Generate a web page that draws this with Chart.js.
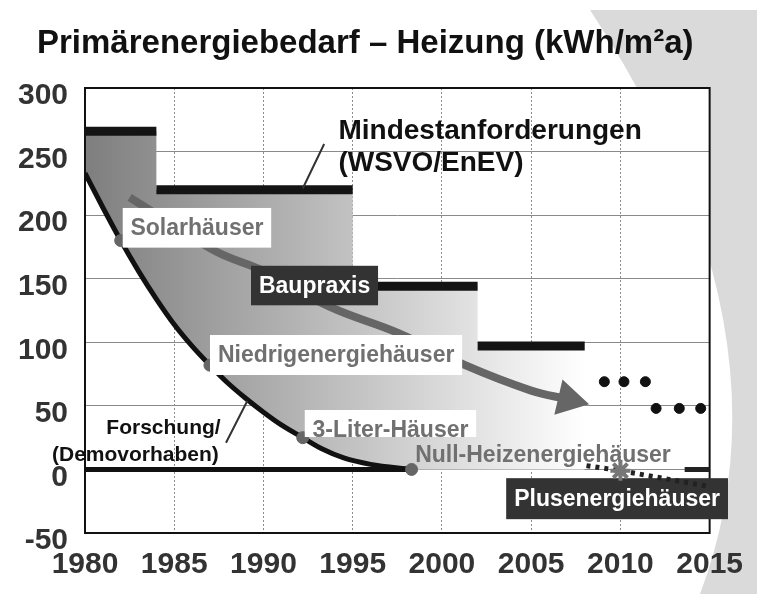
<!DOCTYPE html>
<html>
<head>
    <title>Primärenergiebedarf – Heizung</title>
    <script src="https://cdn.jsdelivr.net/npm/chart.js"></script>
    <style>
        html, body { margin: 0; padding: 0; background: #fff; }
        #wrap { width: 757px; height: 594px; }
    </style>
</head>
<body>
    <div id="wrap"><canvas id="energyChart" width="757" height="594"></canvas></div>

    <script>
        // Mindestanforderungen (WSVO/EnEV): periods and levels
        const minYears = [1980, 1984, 1995, 2002, 2008];
        const minValues = [266, 220, 144, 97];
        // future requirements (dotted)
        const futureYears1 = [2009.1, 2010.2, 2011.4];
        const futureValues1 = [69, 69, 69];
        const futureYears2 = [2012.0, 2013.3, 2014.5];
        const futureValues2 = [48, 48, 48];
        const lastReqYears = [2013.6, 2015];
        const lastReqValues = [0, 0];

        // Forschung / Demovorhaben curve
        const researchYears = [1980, 1981, 1982, 1983, 1984, 1985, 1986, 1987, 1988, 1989, 1990, 1991, 1992.2, 1993.3, 1994.5, 1996, 1998.3];
        const researchValues = [233, 206, 180, 156, 134, 114, 97, 82, 68, 56, 45, 35, 25, 16, 9, 4, 0];
        const zeroYears = [1980, 1998.3];
        const zeroValues = [0, 0];

        // milestones
        const milestoneYears = [1982, 1987, 1992.2, 1998.3];
        const milestoneValues = [180, 82, 25, 0];

        // Baupraxis arrow
        const praxisYears = [1982.5, 1985.0, 1987.4, 1990.0, 1993.7, 1997.6, 2001.3, 2005.0, 2007.1];
        const praxisValues = [214, 192, 171, 156, 128, 107, 82, 62, 55];

        // Plusenergiehäuser
        const plusYears = [2008.1, 2010, 2014.8];
        const plusValues = [3, -1, -13];
        const starYears = [2010];
        const starValues = [-1];

        const xTicks = [1980, 1985, 1990, 1995, 2000, 2005, 2010, 2015];
        const yTicks = [-50, 0, 50, 100, 150, 200, 250, 300];

        const FONT = "'Liberation Sans', Arial, sans-serif";
        const TITLE = "Primärenergiebedarf – Heizung (kWh/m²a)";

        function pts(xs, ys) {
            return xs.map((x, i) => ({ x: x, y: ys[i] }));
        }

        // separate horizontal bars for the requirement steps
        const barData = [];
        minValues.forEach((v, i) => {
            barData.push({ x: minYears[i], y: v });
            barData.push({ x: minYears[i + 1], y: v });
            barData.push({ x: minYears[i + 1], y: null });
        });
        const stepData = pts(minYears, minValues.concat([minValues[minValues.length - 1]]));
        const bottomData = pts(researchYears, researchValues).concat([{ x: minYears[minYears.length - 1], y: 0 }]);

        const boxLabels = [
            { text: "Solarhäuser", x: 1982.1, y: 190, fg: "#707070", bg: "#ffffff" },
            { text: "Baupraxis", x: 1989.3, y: 144.6, fg: "#ffffff", bg: "#333333" },
            { text: "Niedrigenergiehäuser", x: 1987.0, y: 90, fg: "#707070", bg: "#ffffff" },
            { text: "3-Liter-Häuser", x: 1992.3, y: 31, fg: "#707070", bg: "#ffffff", clipTo: 25.5 }
        ];

        const decor = {
            id: "decor",
            beforeDraw(chart) {
                const { ctx, width, height, chartArea: a } = chart;
                ctx.save();
                ctx.fillStyle = "#ffffff";
                ctx.fillRect(0, 0, width, height);
                ctx.fillStyle = "#dadada";
                ctx.beginPath();
                ctx.moveTo(590, 10);
                ctx.quadraticCurveTo(800, 330, 700, height);
                ctx.lineTo(width, height);
                ctx.lineTo(width, 10);
                ctx.closePath();
                ctx.fill();
                ctx.fillStyle = "#ffffff";
                ctx.fillRect(a.left, a.top, a.right - a.left, a.bottom - a.top);

                ctx.fillStyle = "#111";
                ctx.font = "bold 33px " + FONT;
                ctx.textBaseline = "middle";
                ctx.fillText(TITLE, 37, 44);
                ctx.restore();
            },
            beforeDatasetsDraw(chart) {
                const { ctx, chartArea: a, scales: { x, y } } = chart;
                ctx.save();
                ctx.strokeStyle = "#111";
                ctx.lineWidth = 2;
                ctx.strokeRect(a.left, a.top, a.right - a.left, a.bottom - a.top);

                ctx.font = "bold 23px " + FONT;
                ctx.textBaseline = "middle";
                ctx.fillStyle = "#707070";
                ctx.fillText("Null-Heizenergiehäuser", x.getPixelForValue(1998.5), y.getPixelForValue(11));

                const t = "Plusenergiehäuser";
                const w = ctx.measureText(t).width + 16;
                const px = x.getPixelForValue(2003.6), py = y.getPixelForValue(-23);
                ctx.fillStyle = "#333";
                ctx.fillRect(px, py - 20.5, w, 41);
                ctx.fillStyle = "#fff";
                ctx.fillText(t, px + 8, py + 1);
                ctx.restore();
            },
            afterDatasetsDraw(chart) {
                const { ctx, scales: { x, y } } = chart;
                ctx.save();
                ctx.font = "bold 23px " + FONT;
                ctx.textBaseline = "middle";
                boxLabels.forEach(l => {
                    const w = ctx.measureText(l.text).width + 16;
                    const px = x.getPixelForValue(l.x), py = y.getPixelForValue(l.y);
                    const top = py - 20;
                    const bottom = l.clipTo !== undefined ? y.getPixelForValue(l.clipTo) : py + 20;
                    ctx.save();
                    ctx.beginPath();
                    ctx.rect(px, top, w, bottom - top);
                    ctx.clip();
                    ctx.fillStyle = l.bg;
                    ctx.fillRect(px, top, w, bottom - top);
                    ctx.fillStyle = l.fg;
                    ctx.fillText(l.text, px + 8, py + 1);
                    ctx.restore();
                });

                // pointer lines
                ctx.strokeStyle = "#333";
                ctx.lineWidth = 2;
                ctx.beginPath();
                ctx.moveTo(x.getPixelForValue(1993.4), y.getPixelForValue(256));
                ctx.lineTo(x.getPixelForValue(1992.2), y.getPixelForValue(221));
                ctx.moveTo(x.getPixelForValue(1987.9), y.getPixelForValue(21));
                ctx.lineTo(x.getPixelForValue(1989.1), y.getPixelForValue(54));
                ctx.stroke();

                ctx.fillStyle = "#111";
                ctx.font = "bold 28px " + FONT;
                ctx.textAlign = "left";
                ctx.fillText("Mindestanforderungen", x.getPixelForValue(1994.2), y.getPixelForValue(266));
                ctx.fillText("(WSVO/EnEV)", x.getPixelForValue(1994.2), y.getPixelForValue(241));

                ctx.font = "bold 21px " + FONT;
                ctx.textAlign = "right";
                ctx.fillText("Forschung/", x.getPixelForValue(1987.6), y.getPixelForValue(32.6));
                ctx.fillText("(Demovorhaben)", x.getPixelForValue(1987.5), y.getPixelForValue(11.3));
                ctx.restore();
            }
        };

        const ctx = document.getElementById("energyChart").getContext("2d");
        new Chart(ctx, {
            type: "line",
            data: {
                datasets: [
                    {
                        label: "Stern",
                        data: pts(starYears, starValues),
                        showLine: false,
                        pointStyle: "star",
                        pointRadius: 10,
                        pointBorderWidth: 4,
                        pointBorderColor: "#777",
                        pointBackgroundColor: "#777"
                    },
                    {
                        label: "Plusenergiehäuser",
                        data: pts(plusYears, plusValues),
                        borderColor: "#222",
                        borderWidth: 5,
                        borderDash: [4, 5],
                        pointRadius: 0
                    },
                    {
                        label: "Meilensteine",
                        data: pts(milestoneYears, milestoneValues),
                        showLine: false,
                        pointRadius: 6,
                        pointBackgroundColor: "#666",
                        pointBorderColor: "#666"
                    },
                    {
                        label: "Zukunft 1",
                        data: pts(futureYears1, futureValues1),
                        showLine: false,
                        pointRadius: 5,
                        pointBackgroundColor: "#111",
                        pointBorderColor: "#111"
                    },
                    {
                        label: "Zukunft 2",
                        data: pts(futureYears2, futureValues2),
                        showLine: false,
                        pointRadius: 5,
                        pointBackgroundColor: "#111",
                        pointBorderColor: "#111"
                    },
                    {
                        label: "2015",
                        data: pts(lastReqYears, lastReqValues),
                        borderColor: "#222",
                        borderWidth: 5,
                        pointRadius: 0
                    },
                    {
                        label: "Mindestanforderungen",
                        data: barData,
                        borderColor: "#141414",
                        borderWidth: 9,
                        pointRadius: 0,
                        spanGaps: false
                    },
                    {
                        label: "Null",
                        data: pts(zeroYears, zeroValues),
                        borderColor: "#111",
                        borderWidth: 5,
                        pointRadius: 0
                    },
                    {
                        label: "Forschung",
                        data: pts(researchYears, researchValues),
                        borderColor: "#111",
                        borderWidth: 5,
                        pointRadius: 0,
                        cubicInterpolationMode: "monotone"
                    },
                    {
                        label: "Baupraxis",
                        data: pts(praxisYears, praxisValues),
                        borderColor: "#666",
                        borderWidth: 8,
                        tension: 0.4,
                        pointStyle: "triangle",
                        pointRotation: 103,
                        pointRadius: c => c.dataIndex === praxisYears.length - 1 ? 13 : 0,
                        pointBackgroundColor: "#666",
                        pointBorderColor: "#666"
                    },
                    {
                        label: "unten",
                        data: bottomData,
                        borderColor: "transparent",
                        borderWidth: 0,
                        pointRadius: 0,
                        cubicInterpolationMode: "monotone"
                    },
                    {
                        label: "Fläche",
                        data: stepData,
                        stepped: "before",
                        borderColor: "transparent",
                        borderWidth: 0,
                        pointRadius: 0,
                        fill: "-1",
                        backgroundColor: c => {
                            const chart = c.chart;
                            if (!chart.chartArea) return "#aaa";
                            const xs = chart.scales.x;
                            const g = chart.ctx.createLinearGradient(xs.getPixelForValue(1980), 0, xs.getPixelForValue(2008), 0);
                            g.addColorStop(0, "#7e7e7e");
                            g.addColorStop(0.55, "#c4c4c4");
                            g.addColorStop(1, "#ffffff");
                            return g;
                        }
                    }
                ]
            },
            options: {
                responsive: false,
                animation: false,
                events: [],
                layout: { padding: { left: 0, right: 45, top: 88, bottom: 0 } },
                plugins: {
                    legend: { display: false },
                    tooltip: { enabled: false },
                    title: { display: false },
                    filler: { drawTime: "beforeDatasetsDraw" }
                },
                scales: {
                    x: {
                        type: "linear",
                        min: 1980,
                        max: 2015,
                        afterBuildTicks: s => { s.ticks = xTicks.map(v => ({ value: v })); },
                        afterFit: s => { s.height = 61; },
                        border: { display: false, dash: [2, 2] },
                        grid: { color: "#8c8c8c", lineWidth: 1, drawTicks: false },
                        ticks: {
                            padding: 14,
                            color: "#333",
                            font: { family: FONT, size: 30, weight: "bold" },
                            callback: v => String(v)
                        }
                    },
                    y: {
                        min: -50,
                        max: 300,
                        afterBuildTicks: s => { s.ticks = yTicks.map(v => ({ value: v })); },
                        afterFit: s => { s.width = 85; },
                        border: { display: false },
                        grid: { color: "#8a8a8a", lineWidth: 1, drawTicks: false },
                        ticks: {
                            padding: 17,
                            labelOffset: 8,
                            color: "#333",
                            font: { family: FONT, size: 30, weight: "bold" }
                        }
                    }
                }
            },
            plugins: [decor]
        });
    </script>
</body>
</html>
